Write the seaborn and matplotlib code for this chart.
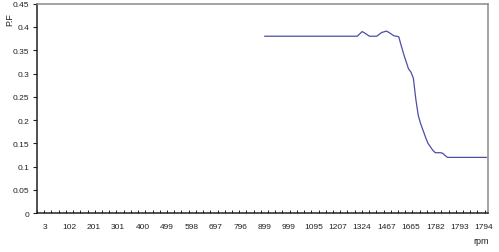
import numpy as np
import pandas as pd
import matplotlib
matplotlib.use("Agg")
import matplotlib.pyplot as plt
import seaborn as sns

# Category tick labels (rpm), one label every 10 samples
rpm_labels = ['3', '102', '201', '301', '400', '499', '598', '697', '796', '899',
              '999', '1095', '1207', '1324', '1467', '1665', '1782', '1793', '1794']

# Sample positions (category index) and power factor values
sample_pos = [90, 128, 130, 131, 133, 136, 138, 140, 141, 143, 145, 146, 147, 149,
              150, 151, 152, 153, 154, 156, 157, 159, 160, 162, 163, 164, 165, 181]
pf_values = [0.38, 0.38, 0.39, 0.387, 0.38, 0.38, 0.388, 0.391, 0.388, 0.381, 0.379,
             0.36, 0.342, 0.31, 0.303, 0.29, 0.245, 0.21, 0.192, 0.163, 0.15, 0.135,
             0.13, 0.13, 0.129, 0.124, 0.12, 0.12]

y_ticks = [0, 0.05, 0.1, 0.15, 0.2, 0.25, 0.3, 0.35, 0.4, 0.45]
y_tick_labels = ['0', '0.05', '0.1', '0.15', '0.2', '0.25', '0.3', '0.35', '0.4', '0.45']

df = pd.DataFrame({'pos': sample_pos, 'pf': pf_values})

sns.set_style('white')
plt.rcParams['font.family'] = ['Liberation Sans', 'DejaVu Sans']

fig = plt.figure(figsize=(4.99, 2.53), dpi=100)
ax = fig.add_axes([37 / 499, 38.7 / 253, (488.5 - 37) / 499, (214.3 - 4.6) / 253])

sns.lineplot(data=df, x='pos', y='pf', ax=ax, color='#4d4da6', linewidth=0.9, sort=False)

xl, xr = -3.3, 181.8
ax.set_xlim(xl, xr)
ax.set_ylim(0, 0.45)

ax.set_yticks(y_ticks)
ax.set_yticklabels(y_tick_labels, fontsize=6)
ax.set_xticks([i * 10 for i in range(len(rpm_labels))])
ax.set_xticklabels(rpm_labels, fontsize=6)
ax.set_xticks(np.arange(xl, xr, 2.96), minor=True)

ax.tick_params(axis='y', which='major', direction='out', length=3, width=0.8,
               pad=2.5, left=True, colors='#222222')
ax.tick_params(axis='x', which='major', length=0, pad=7, bottom=True, colors='#222222')
ax.tick_params(axis='x', which='minor', direction='in', length=2.5, width=0.7,
               bottom=True, color='#222222')

ax.set_xlabel('')
ax.set_ylabel('')

for s in ['left', 'bottom']:
    ax.spines[s].set_color('#222222')
    ax.spines[s].set_linewidth(1.1)
for s in ['top', 'right']:
    ax.spines[s].set_color('#8a8a8a')
    ax.spines[s].set_linewidth(1.1)

fig.text(10 / 499, 1 - 20 / 253, 'P.F', rotation=90, ha='center', va='center',
         fontsize=6.5, color='#222222')
fig.text(481 / 499, 1 - 241.7 / 253, 'rpm', ha='center', va='center',
         fontsize=6.5, color='#222222')

fig.savefig('out.png', dpi=100)
